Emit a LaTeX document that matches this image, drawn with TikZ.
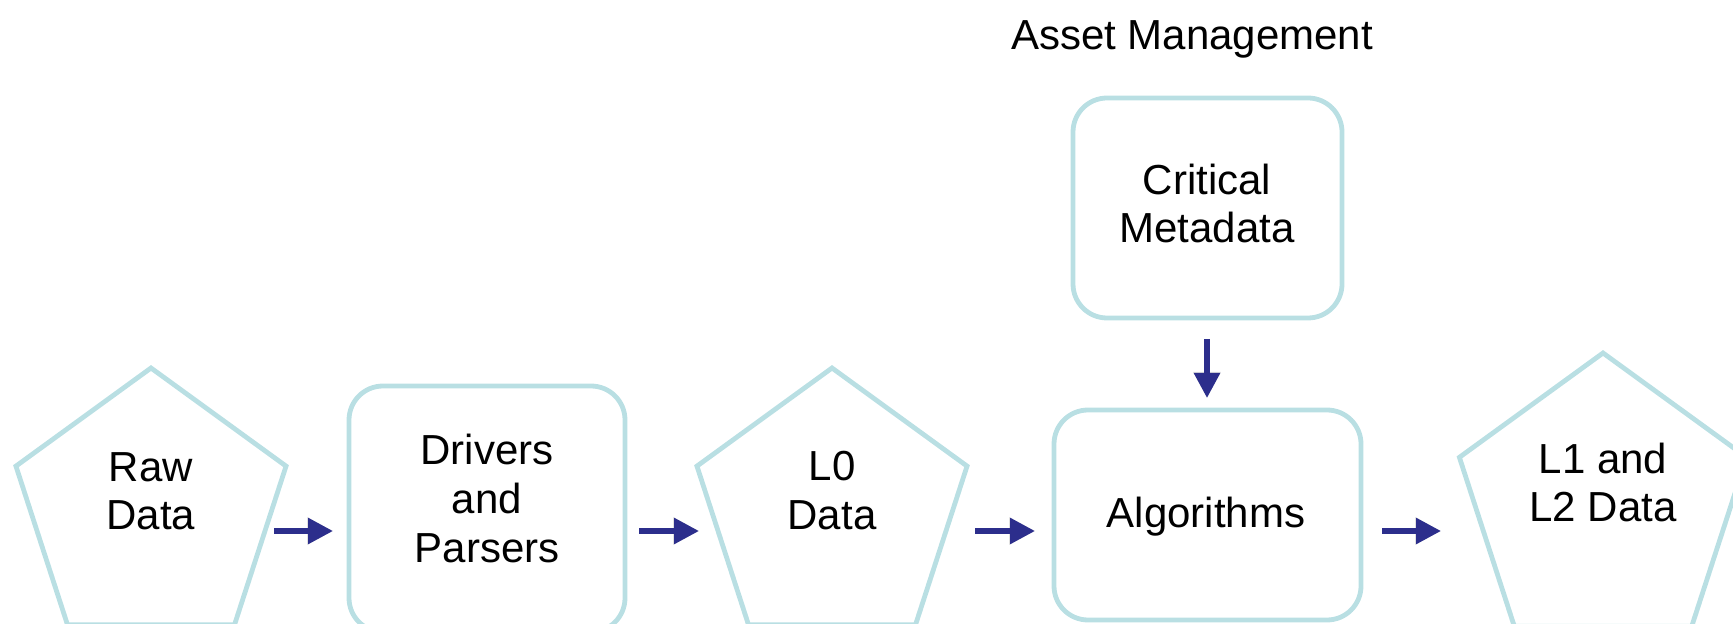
\documentclass[tikz,border=0pt]{standalone}
\usepackage{fontspec}
\setmainfont{Liberation Sans}
\usetikzlibrary{shapes.geometric,arrows.meta}
\definecolor{boxline}{RGB}{185,223,227}
\definecolor{navy}{RGB}{44,46,140}
\begin{document}
\begin{tikzpicture}[x=0.5pt,y=-0.5pt,
  pent/.style={draw=boxline,line width=2.4pt,regular polygon,regular polygon sides=5,inner sep=0pt,outer sep=0pt},
  rbox/.style={draw=boxline,line width=2.4pt,rectangle,rounded corners=17pt,inner sep=0pt,outer sep=0pt},
  lbl/.style={font=\fontsize{21pt}{24.4pt}\selectfont,align=center,anchor=base,inner sep=0pt},
  arr/.style={draw=navy,line width=2.8pt,-{Triangle[length=12.5pt,width=12.5pt]}},
  shd/.style={draw=black,draw opacity=0.12,fill opacity=0.12,line width=3.2pt,-{Triangle[length=13pt,width=13pt]}}]
\useasboundingbox (0,0) rectangle (1733,624);
\clip (0,0) rectangle (1733,624);

% shapes
\node[pent,minimum size=142pt] (raw) at (151,510) {};
\node[rbox,minimum width=138pt,minimum height=123pt] (drv) at (487,509) {};
\node[pent,minimum size=142pt] (lzero) at (832,510) {};
\node[rbox,minimum width=153.5pt,minimum height=105pt] (alg) at (1207.5,515) {};
\node[rbox,minimum width=134.5pt,minimum height=110pt] (meta) at (1207.5,208) {};
\node[pent,minimum size=151pt] (lot) at (1603,504) {};

% texts (anchor base = baseline of the last line)
\node[lbl] (title) at (1192,50) {Asset Management};
\node[lbl] (rawt) at (151,530) {Raw\\Data};
\node[lbl] (drvt) at (487,562) {Drivers\\and\\Parsers};
\node[lbl] (lzerot) at (832,529) {L0\\Data};
\node[lbl] (algt) at (1206,527) {Algorithms};
\node[lbl] (metat) at (1207,243) {Critical\\Metadata};
\node[lbl] (lott) at (1603,522) {L1 and\\L2 Data};

% connector end points
\coordinate (a1s) at (274,531); \coordinate (a1e) at (333,531);
\coordinate (a2s) at (639,531); \coordinate (a2e) at (699,531);
\coordinate (a3s) at (975,531); \coordinate (a3e) at (1035,531);
\coordinate (a4s) at (1382,531); \coordinate (a4e) at (1441,531);
\coordinate (a5s) at (1207,339); \coordinate (a5e) at (1207,398);

% shadows
\begin{scope}[shift={(2,3)}]
\foreach \s/\e in {a1s/a1e,a2s/a2e,a3s/a3e,a4s/a4e,a5s/a5e}
  \draw[shd] (\s) -- (\e);
\end{scope}
% arrows
\draw[arr] (a1s) -- (a1e);
\draw[arr] (a2s) -- (a2e);
\draw[arr] (a3s) -- (a3e);
\draw[arr] (a4s) -- (a4e);
\draw[arr] (a5s) -- (a5e);
\end{tikzpicture}
\end{document}
